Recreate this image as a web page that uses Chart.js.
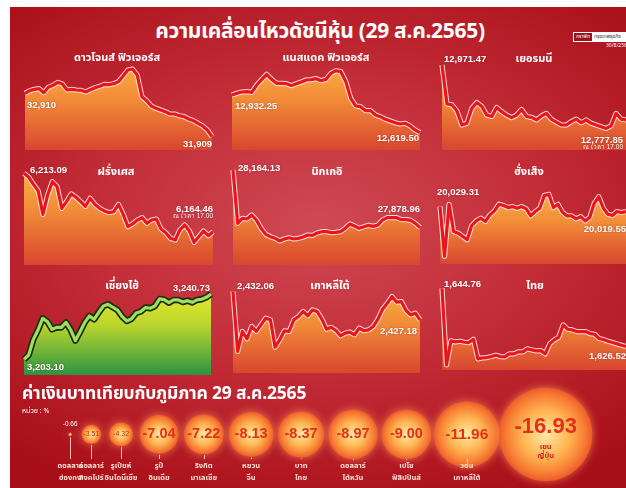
<!DOCTYPE html>
<html><head><meta charset="utf-8">
<script src="https://cdn.jsdelivr.net/npm/chart.js@4/dist/chart.umd.min.js"></script>
<style>
body{margin:0;width:626px;height:488px;overflow:hidden;background:#fff;position:relative;font-family:"Noto Sans Thai","Noto Sans","Liberation Sans",sans-serif}
#bg{position:absolute;left:10px;top:7px;width:616px;height:481px;background:radial-gradient(ellipse 75% 62% at 50% 45%,#cf4953 0%,#c22c37 50%,#a90f19 100%)}
canvas{position:absolute}
.t{position:absolute;color:#fff;font-weight:700;white-space:nowrap;transform:translate(-50%,-50%);z-index:5;line-height:1}
.l{position:absolute;color:#fff;font-weight:700;white-space:nowrap;z-index:5;line-height:1}
</style></head><body>
<div id="bg"></div>
<div class="t" style="left:320px;top:31px;font-size:21px;letter-spacing:-0.3px">ความเคลื่อนไหวดัชนีหุ้น (29 ส.ค.2565)</div>
<div style="position:absolute;left:573px;top:32px;width:52px;height:8px;border:1px solid #fff;font-size:5px;line-height:8px;color:#fff;z-index:5;display:flex">
<span style="background:#a0101a;padding:0 2px">กราฟิก</span><span style="background:#fff;color:#333;flex:1;padding:0 2px">กรุงเทพธุรกิจ</span></div>
<div class="l" style="left:606px;top:43px;font-size:5px;font-weight:400">30/8/2565</div>
<div class="l" style="left:22px;top:385px;font-size:17.5px;letter-spacing:-0.2px">ค่าเงินบาทเทียบกับภูมิภาค 29 ส.ค.2565</div>
<div class="l" style="left:22px;top:408px;font-size:7px;font-weight:400">หน่วย : %</div>
<script>
// ---------- data ----------
const dowValues = [32910, 32972, 33002, 33018, 32925, 33049, 33095, 33164, 33126, 32987, 33002, 32987, 32979, 32941, 32995, 33041, 33072, 33118, 33110, 33133, 33180, 33310, 33449, 33472, 33334, 32833, 32741, 32617, 32564, 32525, 32487, 32433, 32433, 32394, 32371, 32317, 32279, 32217, 32156, 32063, 31909];
const nasdaqValues = [12932.25, 12946, 12957, 12960, 12954, 13015, 13060, 13104, 13062, 13029, 13029, 13026, 13010, 13026, 13040, 13057, 13060, 13068, 13051, 13062, 13112, 13134, 13126, 13043, 12905, 12841, 12835, 12802, 12802, 12766, 12752, 12730, 12716, 12702, 12691, 12697, 12675, 12642, 12619.50];
const daxValues = [12971.47, 12834, 12831, 12809, 12760, 12766, 12819, 12839, 12825, 12795, 12790, 12822, 12807, 12795, 12786, 12795, 12815, 12790, 12787, 12778, 12792, 12801, 12780, 12770, 12760, 12760, 12772, 12781, 12768, 12778, 12766, 12760, 12754, 12748, 12757, 12801, 12781, 12777.85];
const franceValues = [6213.09, 6209.8, 6203.9, 6198.4, 6178.9, 6195.0, 6206.1, 6202.0, 6183.9, 6189.5, 6195.9, 6193.1, 6189.5, 6185.6, 6192.3, 6187.2, 6183.9, 6181.7, 6180.3, 6181.1, 6187.2, 6178.9, 6168.6, 6170.9, 6174.2, 6176.1, 6171.4, 6174.2, 6175.0, 6166.7, 6163.6, 6158.9, 6157.5, 6165.9, 6170.0, 6165.0, 6155.6, 6160.3, 6165.0, 6161.1, 6164.46];
const nikkeiValues = [28164.13, 27900.4, 27925.2, 27921.9, 27941.6, 27916.9, 27875.7, 27846.0, 27834.5, 27826.3, 27813.1, 27823.0, 27829.6, 27823.0, 27826.3, 27832.9, 27842.8, 27841.1, 27852.6, 27859.2, 27859.2, 27854.3, 27855.9, 27859.2, 27875.7, 27897.1, 27887.3, 27875.7, 27884.0, 27890.6, 27885.6, 27892.2, 27916.9, 27928.4, 27928.4, 27928.4, 27918.6, 27918.6, 27915.3, 27900.4, 27878.96];
const hsiValues = [20029.31, 19931.8, 20033.9, 19980.6, 19977.3, 19970.8, 19964.3, 19992.3, 20001.4, 20006.6, 20000.1, 20013.1, 20020.9, 20033.9, 20031.3, 20027.4, 20029.3, 20026.1, 20029.3, 20024.8, 20011.1, 20019.6, 20026.1, 20050.8, 20053.4, 20027.4, 20033.9, 20018.3, 20011.1, 20011.1, 20005.3, 20009.8, 20001.4, 20007.9, 20035.8, 20048.8, 20026.1, 20014.4, 20011.8, 20019.6, 20017.6, 20019.55];
const sseValues = [3203.10, 3205.6, 3214.6, 3220.0, 3226.7, 3224.8, 3220.4, 3221.5, 3221.5, 3224.4, 3220.0, 3213.9, 3219.0, 3224.4, 3228.1, 3226.1, 3230.2, 3233.8, 3234.8, 3233.1, 3231.5, 3227.7, 3225.2, 3226.5, 3229.8, 3230.7, 3232.9, 3232.5, 3233.8, 3237.9, 3237.5, 3235.7, 3237.3, 3237.3, 3236.1, 3236.9, 3235.9, 3237.3, 3237.7, 3238.8, 3240.73];
const kospiValues = [2432.06, 2421.73, 2425.17, 2423.9, 2426.03, 2425.2, 2426.32, 2427.47, 2427.18, 2422.47, 2423.74, 2425.29, 2425.17, 2427.18, 2427.75, 2428.62, 2427.9, 2428.90, 2428.62, 2427.30, 2425.57, 2425.9, 2425.34, 2424.43, 2424.88, 2425.06, 2424.6, 2425.75, 2425.3, 2425.46, 2426.03, 2427.30, 2429.02, 2430.05, 2431.20, 2430.24, 2430.34, 2428.79, 2428.04, 2428.33, 2427.18];
const setValues = [1644.76, 1620.79, 1628.30, 1627.98, 1628.19, 1627.88, 1627.78, 1628.82, 1622.67, 1622.98, 1623.09, 1623.40, 1623.82, 1623.40, 1623.29, 1624.23, 1624.23, 1624.86, 1624.86, 1625.80, 1625.48, 1625.17, 1625.27, 1624.23, 1627.36, 1628.61, 1629.44, 1633.30, 1631.94, 1631.73, 1631.21, 1631.21, 1631.21, 1630.59, 1630.38, 1629.03, 1628.71, 1628.19, 1627.78, 1627.36, 1626.94, 1626.52];

const chartTitles = ['ดาวโจนส์ ฟิวเจอร์ส','แนสแดค ฟิวเจอร์ส','เยอรมนี','ฝรั่งเศส','นิกเกอิ','ฮั่งเส็ง','เซี่ยงไฮ้','เกาหลีใต้','ไทย'];
const timeNote = 'ณ เวลา 17.00';

const currencyNames = [['ดอลลาร์','ฮ่องกง'],['ดอลลาร์','สิงคโปร์'],['รูเปียห์','อินโดนีเซีย'],['รูปี','อินเดีย'],['ริงกิต','มาเลเซีย'],['หยวน','จีน'],['บาท','ไทย'],['ดอลลาร์','ไต้หวัน'],['เปโซ','ฟิลิปปินส์'],['วอน','เกาหลีใต้'],['เยน','ญี่ปุ่น']];
const currencyChanges = [-0.66, -3.51, -4.32, -7.04, -7.22, -8.13, -8.37, -8.97, -9.00, -11.96, -16.93];

// ---------- helpers ----------
const P = 8;
const NUMFONT = '"Liberation Sans", Arial, sans-serif';
const fmt = (v, d) => v.toLocaleString('en-US', {minimumFractionDigits: d, maximumFractionDigits: d});

function orangeFill(c){
  const {ctx, chartArea: a} = c.chart; if (!a) return 'rgba(0,0,0,0)';
  const g = ctx.createLinearGradient(0, a.top, 0, a.bottom);
  g.addColorStop(0, '#fbb443'); g.addColorStop(0.45, '#f28a38'); g.addColorStop(1, '#d8462f');
  return g;
}
function greenFill(c){
  const {ctx, chartArea: a} = c.chart; if (!a) return 'rgba(0,0,0,0)';
  const g = ctx.createLinearGradient(0, a.top, 0, a.bottom);
  g.addColorStop(0, '#f2ec2c'); g.addColorStop(0.45, '#b9d52c'); g.addColorStop(1, '#2c9342');
  return g;
}

const valueLabels = {
  id: 'valueLabels',
  afterDatasetsDraw(chart, args, opts){
    const meta = chart.getDatasetMeta(0), vals = chart.data.datasets[0].data, ctx = chart.ctx;
    (opts.marks || []).forEach(m => {
      const idx = m.at === 'last' ? vals.length - 1 : 0;
      const el = meta.data[idx];
      ctx.save();
      ctx.font = m.small ? '6.5px ' + NUMFONT : 'bold 9.5px ' + NUMFONT;
      ctx.fillStyle = '#fff'; ctx.textAlign = m.align; ctx.textBaseline = 'middle';
      ctx.shadowColor = 'rgba(90,0,0,0.45)'; ctx.shadowBlur = 2;
      ctx.fillText(m.small ? timeNote : fmt(vals[idx], opts.decimals), el.x + m.dx, el.y + m.dy);
      ctx.restore();
    });
  }
};

function makeLine(s){
  const cv = document.createElement('canvas');
  const w = s.box[2] - s.box[0] + 2 * P, h = s.box[3] - s.box[1] + 2 * P;
  cv.width = w; cv.height = h;
  cv.style.left = (s.box[0] - P) + 'px'; cv.style.top = (s.box[1] - P) + 'px';
  cv.style.width = w + 'px'; cv.style.height = h + 'px';
  document.body.appendChild(cv);
  const green = !!s.green;
  new Chart(cv, {
    type: 'line',
    data: {
      labels: s.values.map((_, i) => i),
      datasets: [
        {data: s.values, borderColor: green ? '#9ee05c' : '#e8141f', borderWidth: 3.2, fill: false, pointRadius: 0, tension: 0, clip: false, borderJoinStyle: 'round'},
        {data: s.values, borderColor: green ? '#1b2a12' : 'rgba(255,236,226,0.9)', borderWidth: green ? 6.5 : 5.2, fill: 'start', backgroundColor: green ? greenFill : orangeFill, pointRadius: 0, tension: 0, clip: false, borderJoinStyle: 'round'}
      ]
    },
    options: {
      responsive: false, animation: false, events: [],
      layout: {padding: P},
      plugins: {legend: {display: false}, tooltip: {enabled: false}, valueLabels: {decimals: s.dec, marks: s.marks}},
      scales: {x: {display: false, offset: false}, y: {display: false, min: s.min, max: s.max}}
    },
    plugins: [valueLabels]
  });
  const t = document.createElement('div');
  t.className = 't'; t.textContent = s.title;
  t.style.left = s.tpos[0] + 'px'; t.style.top = s.tpos[1] + 'px'; t.style.fontSize = '11px';
  document.body.appendChild(t);
}

const specs = [
  {values: dowValues, title: chartTitles[0], box: [25, 60, 212, 150], min: 31601, max: 33680, dec: 0, tpos: [117, 57],
   marks: [{at: 'first', dx: 2, dy: 12, align: 'left'}, {at: 'last', dx: 0, dy: 8, align: 'right'}]},
  {values: nasdaqValues, title: chartTitles[1], box: [232, 60, 420, 150], min: 12475, max: 13223, dec: 2, tpos: [326, 57],
   marks: [{at: 'first', dx: 3, dy: 11, align: 'left'}, {at: 'last', dx: -1, dy: 6, align: 'right'}]},
  {values: daxValues, title: chartTitles[2], box: [442, 60, 626, 150], min: 12672, max: 12989, dec: 2, tpos: [534, 58],
   marks: [{at: 'first', dx: 2, dy: -6, align: 'left'}, {at: 'last', dx: -3, dy: 20, align: 'right'}, {at: 'last', dx: -3, dy: 27.5, align: 'right', small: true}]},
  {values: franceValues, title: chartTitles[3], box: [24, 168, 213, 265], min: 6136.7, max: 6217.5, dec: 2, tpos: [116, 171],
   marks: [{at: 'first', dx: 6, dy: -3, align: 'left'}, {at: 'last', dx: 0, dy: -22, align: 'right'}, {at: 'last', dx: 0, dy: -15, align: 'right', small: true}]},
  {values: nikkeiValues, title: chartTitles[4], box: [233, 168, 420, 265], min: 27694.5, max: 28174, dec: 2, tpos: [327, 171],
   marks: [{at: 'first', dx: 5, dy: -2, align: 'left'}, {at: 'last', dx: 0, dy: -18, align: 'right'}]},
  {values: hsiValues, title: chartTitles[5], box: [440, 190, 626, 264], min: 19916.9, max: 20061.8, dec: 2, tpos: [529, 171],
   marks: [{at: 'first', dx: -3, dy: -14, align: 'left'}, {at: 'last', dx: 0, dy: 18, align: 'right'}]},
  {values: sseValues, title: chartTitles[6], box: [24, 285, 211, 375], min: 3194.1, max: 3245.9, dec: 2, tpos: [122, 285], green: true,
   marks: [{at: 'first', dx: 3, dy: 8, align: 'left'}, {at: 'last', dx: -1, dy: -6, align: 'right'}]},
  {values: kospiValues, title: chartTitles[7], box: [233, 285, 420, 373], min: 2418.0, max: 2433.2, dec: 2, tpos: [330, 285],
   marks: [{at: 'first', dx: 4, dy: -5, align: 'left'}, {at: 'last', dx: -3, dy: 12, align: 'right'}]},
  {values: setValues, title: chartTitles[8], box: [442, 283, 626, 370], min: 1619.2, max: 1646.4, dec: 2, tpos: [535, 285],
   marks: [{at: 'first', dx: 2, dy: -4, align: 'left'}, {at: 'last', dx: 0, dy: 10, align: 'right'}]}
];
specs.forEach(makeLine);

// ---------- currency bubbles ----------
const K = 2.75, GAP = 13.5;
const bubbleData = [];
let cx = 16;
currencyChanges.forEach((v, i) => {
  const r = Math.abs(v) * K;
  if (i > 0) cx += bubbleData[i - 1].r + GAP + r;
  bubbleData.push({x: cx, y: 0, r});
});

const bubbleGlow = {
  id: 'bubbleGlow',
  beforeDatasetsDraw(chart){ const c = chart.ctx; c.save(); c.shadowColor = 'rgba(255,160,90,0.7)'; c.shadowBlur = 9; },
  afterDatasetsDraw(chart){ chart.ctx.restore(); }
};
const bubbleText = {
  id: 'bubbleText',
  afterDatasetsDraw(chart){
    const ctx = chart.ctx, meta = chart.getDatasetMeta(0);
    meta.data.forEach((el, i) => {
      const v = currencyChanges[i], r = bubbleData[i].r, x = el.x, y = el.y;
      const last = i === currencyChanges.length - 1;
      ctx.save();
      ctx.textAlign = 'center'; ctx.textBaseline = 'middle';
      const txt = v.toFixed(2);
      if (r < 5) {
        ctx.fillStyle = '#fff'; ctx.font = '6.5px ' + NUMFONT; ctx.fillText(txt, x, y - 10);
      } else if (r < 15) {
        ctx.fillStyle = '#c8301c'; ctx.font = '7px "Liberation Sans Narrow", ' + NUMFONT; ctx.fillText(txt, x, y);
      } else {
        const fs = r > 40 ? 22 : (r > 30 ? 15.5 : 14.5);
        ctx.fillStyle = '#e2301c'; ctx.font = 'bold ' + fs + 'px "Liberation Sans Narrow", ' + NUMFONT;
        ctx.fillText(txt, x, last ? y - 7 : y);
      }
      if (last) {
        ctx.font = 'bold 7.5px "Noto Sans Thai", "Noto Sans", sans-serif'; ctx.fillStyle = '#d0201c';
        ctx.fillText(currencyNames[i][0], x, y + 13); ctx.fillText(currencyNames[i][1], x, y + 22);
      } else {
        const lineEnd = 79;
        ctx.strokeStyle = 'rgba(255,220,205,0.85)'; ctx.lineWidth = 1;
        ctx.beginPath(); ctx.moveTo(Math.round(x) + 0.5, y + r + 1); ctx.lineTo(Math.round(x) + 0.5, lineEnd); ctx.stroke();
        ctx.font = 'bold 7.5px "Noto Sans Thai", "Noto Sans", sans-serif'; ctx.fillStyle = '#ffdccf';
        ctx.fillText(currencyNames[i][0], x, 86); ctx.fillText(currencyNames[i][1], x, 98);
      }
      ctx.restore();
    });
  }
};

(function(){
  const cv = document.createElement('canvas');
  cv.width = 616; cv.height = 108; cv.style.left = '10px'; cv.style.top = '380px';
  cv.style.width = '616px'; cv.style.height = '108px';
  document.body.appendChild(cv);
  new Chart(cv, {
    type: 'bubble',
    data: {labels: currencyNames.map(n => n.join(' ')), datasets: [{
      data: bubbleData, clip: false, borderWidth: 0,
      backgroundColor: (c) => {
        const ch = c.chart, raw = c.raw;
        if (!ch.chartArea || !raw) return '#f47a30';
        const x = ch.scales.x.getPixelForValue(raw.x), y = ch.scales.y.getPixelForValue(raw.y);
        const g = ch.ctx.createRadialGradient(x, y, 0, x, y, Math.max(raw.r, 1));
        g.addColorStop(0, '#ffe9a6'); g.addColorStop(0.5, '#ffb653'); g.addColorStop(0.85, '#f77c33'); g.addColorStop(1, '#ee5c2a');
        return g;
      }
    }]},
    options: {
      responsive: false, animation: false, events: [],
      layout: {padding: 0},
      plugins: {legend: {display: false}, tooltip: {enabled: false}},
      scales: {x: {type: 'linear', display: false, min: 0, max: 616}, y: {display: false, min: -51, max: 57}}
    },
    plugins: [bubbleGlow, bubbleText]
  });
})();
</script>
</body></html>
